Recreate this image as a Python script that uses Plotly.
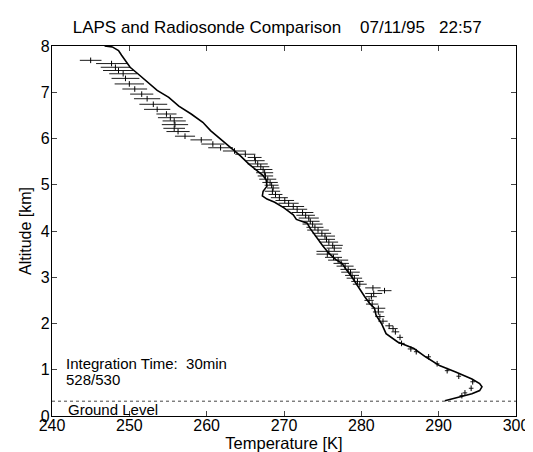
import plotly.graph_objects as go

# radiosonde profile (temperature K, altitude km), read from the bottom up
sonde_temp = [290.8, 292.5, 294.3, 295.3, 295.6, 295.3, 294.3, 292.2, 290.1, 288.3,
              286.8, 284.7, 283.2, 282.6, 281.9, 281.7, 281.1, 280.4, 279.6, 278.8,
              278.0, 277.5, 276.7, 275.8, 275.0, 274.1, 273.4, 273.0, 271.6, 271.2,
              270.0, 268.8, 267.8, 267.2, 267.3, 267.8, 267.7, 267.3, 266.5, 265.5,
              264.4, 263.3, 262.0, 260.5, 259.5, 258.0, 256.4, 255.1, 253.6, 252.4,
              251.1, 250.1, 249.4, 249.0, 248.6, 247.8, 246.8]
sonde_alt = [0.33, 0.40, 0.48, 0.55, 0.63, 0.70, 0.80, 0.95, 1.09, 1.28,
             1.46, 1.60, 1.78, 2.00, 2.18, 2.33, 2.43, 2.59, 2.80, 3.00,
             3.18, 3.30, 3.38, 3.52, 3.68, 3.88, 4.05, 4.17, 4.25, 4.35,
             4.50, 4.62, 4.69, 4.76, 4.86, 4.97, 5.10, 5.20, 5.31, 5.44,
             5.62, 5.77, 5.95, 6.17, 6.35, 6.53, 6.70, 6.89, 7.04, 7.22,
             7.40, 7.54, 7.69, 7.80, 7.90, 7.98, 8.00]

# LAPS retrievals (altitude km, temperature K, half-width of error bar K)
laps_alt = [7.69, 7.62, 7.54, 7.47, 7.40, 7.30, 7.18, 7.07, 6.96, 6.86,
            6.74, 6.63, 6.53, 6.45, 6.38, 6.30, 6.22, 6.15, 6.05, 5.97,
            5.88, 5.80, 5.73, 5.66, 5.59, 5.52, 5.45, 5.39, 5.33, 5.26,
            5.19, 5.12, 5.05, 4.99, 4.93, 4.86, 4.79, 4.72, 4.66, 4.60,
            4.53, 4.47, 4.40, 4.34, 4.28, 4.21, 4.15, 4.08, 4.02, 3.95,
            3.89, 3.82, 3.76, 3.69, 3.63, 3.56, 3.50, 3.43, 3.37, 3.30,
            3.24, 3.17, 3.11, 3.04, 2.98, 2.91, 2.85, 2.77, 2.71, 2.65,
            2.58, 2.50, 2.42, 2.33, 2.25, 2.15, 2.05, 1.95, 1.89, 1.82,
            1.70, 1.57, 1.45, 1.39, 1.28, 1.13, 0.98, 0.86, 0.74, 0.60,
            0.50, 0.44]
laps_temp = [245.0, 247.7, 248.2, 248.6, 249.2, 249.5, 250.0, 250.7, 251.6, 252.3,
             253.1, 253.6, 254.8, 255.3, 255.8, 255.9, 255.8, 256.3, 257.2, 259.3,
             260.8, 261.8, 263.6, 265.0, 266.2, 266.3, 266.6, 267.0, 267.3, 267.5,
             267.6, 267.9, 268.2, 268.4, 268.6, 268.5, 268.9, 269.4, 270.1, 270.6,
             271.2, 271.7, 272.4, 272.8, 273.2, 273.4, 273.7, 274.0, 274.4, 274.9,
             275.3, 275.5, 275.8, 276.3, 276.5, 275.8, 275.6, 276.4, 277.0, 277.4,
             277.9, 278.3, 278.6, 278.8, 279.1, 279.5, 279.8, 281.5, 283.0, 281.6,
             281.3, 281.0, 281.4, 282.2, 282.2, 282.4, 282.8, 283.6, 284.1, 284.4,
             285.0, 285.2, 286.4, 287.1, 288.7, 289.8, 291.1, 292.6, 294.4, 294.2,
             293.4, 293.0]
laps_err = [1.4, 2.0, 1.9, 2.0, 1.8, 1.8, 1.9, 1.6, 1.5, 1.7,
            1.8, 1.7, 1.3, 1.6, 1.5, 1.7, 1.4, 1.5, 1.3, 1.4,
            1.5, 1.6, 1.5, 1.3, 0.9, 1.2, 1.3, 1.1, 1.2, 1.1,
            1.0, 1.1, 1.0, 0.9, 0.8, 1.0, 0.9, 1.1, 1.2, 1.3,
            1.4, 1.3, 1.4, 1.2, 1.3, 1.2, 1.3, 1.1, 1.4, 1.2,
            1.3, 1.1, 1.2, 1.3, 1.0, 1.6, 1.4, 1.1, 1.3, 1.0,
            1.1, 1.0, 1.2, 0.9, 1.0, 0.8, 0.9, 1.0, 0.9, 1.1,
            0.7, 0.6, 0.8, 0.9, 0.7, 0.6, 0.6, 0.5, 0.6, 0.5,
            0.4, 0.4, 0.4, 0.3, 0.3, 0.3, 0.3, 0.3, 0.3, 0.3,
            0.3, 0.3]

ground_level = 0.32
x_ticks = [240, 250, 260, 270, 280, 290, 300]
y_ticks = [0, 1, 2, 3, 4, 5, 6, 7, 8]

font = "Liberation Sans, Arial, Helvetica, sans-serif"

fig = go.Figure()

fig.add_trace(
    go.Scatter(
        x=laps_temp,
        y=laps_alt,
        mode="markers",
        marker={"symbol": "line-ns", "size": 4, "line": {"width": 1, "color": "black"}},
        error_x={"type": "data", "array": laps_err, "width": 0, "thickness": 0.9, "color": "black"},
        name="LAPS",
    )
)

fig.add_trace(
    go.Scatter(
        x=sonde_temp,
        y=sonde_alt,
        mode="lines",
        line={"color": "black", "width": 1.6},
        name="Radiosonde",
    )
)

fig.add_hline(y=ground_level, line={"color": "#444", "width": 1, "dash": "dot"})

fig.add_annotation(x=241.8, y=0.15, text="Ground Level", showarrow=False,
                   xanchor="left", yanchor="middle", font={"size": 15})
fig.add_annotation(x=241.6, y=1.14, text="Integration Time:\u00a0 30min", showarrow=False,
                   xanchor="left", yanchor="middle", font={"size": 15})
fig.add_annotation(x=241.6, y=0.78, text="528/530", showarrow=False,
                   xanchor="left", yanchor="middle", font={"size": 15})

fig.update_xaxes(
    range=[240, 300],
    tickvals=x_ticks,
    ticks="inside",
    ticklen=5,
    mirror="ticks",
    showline=True,
    linecolor="black",
    linewidth=1.2,
    showgrid=False,
    zeroline=False,
    ticklabelstandoff=-5,
    title={"text": "Temperature [K]", "standoff": 1, "font": {"size": 16.5}},
)
fig.update_yaxes(
    range=[0, 8],
    tickvals=y_ticks,
    ticks="inside",
    ticklen=5,
    mirror="ticks",
    showline=True,
    linecolor="black",
    linewidth=1.2,
    showgrid=False,
    zeroline=False,
    ticklabelstandoff=-2,
    title={"text": "Altitude [km]", "standoff": 5, "font": {"size": 16}},
)

fig.update_layout(
    width=533,
    height=452,
    showlegend=False,
    title={
        "text": "LAPS and Radiosonde Comparison\u00a0\u00a0\u00a0 07/11/95\u00a0\u00a0 22:57",
        "x": 0.505,
        "xanchor": "center",
        "y": 0.958,
        "yanchor": "middle",
        "font": {"size": 17},
    },
    font={"family": font, "size": 16, "color": "black"},
    margin={"l": 44, "r": 16, "t": 38, "b": 44},
    paper_bgcolor="white",
    plot_bgcolor="white",
)

fig.write_html("out.html")
